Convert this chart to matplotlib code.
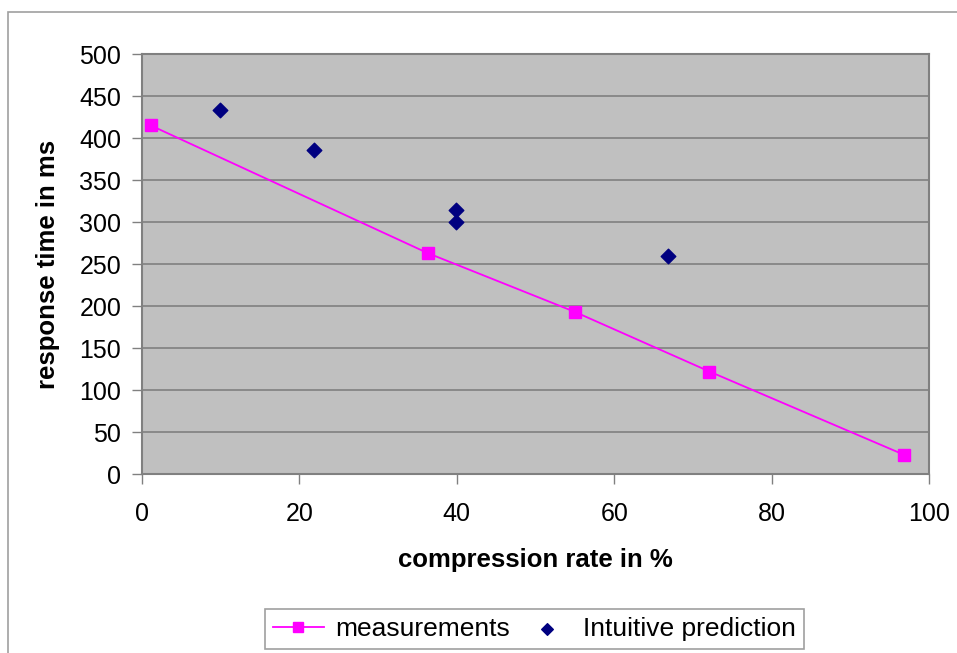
import matplotlib.pyplot as plt
from matplotlib.patches import Rectangle

plt.rcParams['font.family'] = ['Liberation Sans', 'DejaVu Sans']

# measurements (line + squares)
meas_x = [1.1, 36.3, 55.0, 72.1, 96.8]
meas_y = [415, 263, 193, 122, 23]

# intuitive prediction (diamonds)
pred_x = [9.9, 21.9, 39.9, 39.9, 66.8]
pred_y = [433, 386, 314, 300, 260]

W, H = 957, 653
fig = plt.figure(figsize=(W / 100, H / 100), dpi=100)
fig.patch.set_facecolor('white')

# outer chart frame
fig.patches.append(Rectangle((8 / W, -0.1), 1.2, 1 - 12 / H + 0.1, transform=fig.transFigure,
                             fill=False, edgecolor='#a0a0a0', linewidth=1.2))

left, right, top, bottom = 142, 929, 54, 474
ax = fig.add_axes([left / W, 1 - bottom / H, (right - left) / W, (bottom - top) / H])
ax.set_facecolor('#c0c0c0')

ax.set_xlim(0, 100)
ax.set_ylim(0, 500)
ax.set_xticks(range(0, 101, 20))
ax.set_yticks(range(0, 501, 50))
ax.yaxis.grid(True, color='#808080', linewidth=1.2)
ax.set_axisbelow(True)

for s in ax.spines.values():
    s.set_color('#808080')
    s.set_linewidth(1.5)

ax.tick_params(axis='both', direction='out', length=7, width=1, color='#808080',
               labelsize=18, labelcolor='black')
ax.tick_params(axis='x', pad=13)
ax.tick_params(axis='y', pad=8)

ax.plot(meas_x, meas_y, color='#ff00ff', linewidth=1.3, marker='s', markersize=9,
        markerfacecolor='#ff00ff', markeredgecolor='#ff00ff', label='measurements', zorder=3)
ax.scatter(pred_x, pred_y, marker='D', s=55, color='#000080', label='Intuitive prediction', zorder=4)

ax.set_xlabel('compression rate in %', fontsize=18.5, fontweight='bold', labelpad=16)
ax.set_ylabel('response time in ms', fontsize=18.5, fontweight='bold', labelpad=14)

leg = fig.legend(loc='center', bbox_to_anchor=(534.5 / W, 1 - 629 / H), ncol=2, fontsize=19,
                 frameon=True, fancybox=False, edgecolor='#a0a0a0', framealpha=1,
                 handlelength=1.95, columnspacing=0.45, borderpad=0.3, handletextpad=0.4,
                 scatterpoints=1, markerscale=0.8)
leg.get_frame().set_linewidth(1.2)

fig.savefig('out.png', dpi=100)
